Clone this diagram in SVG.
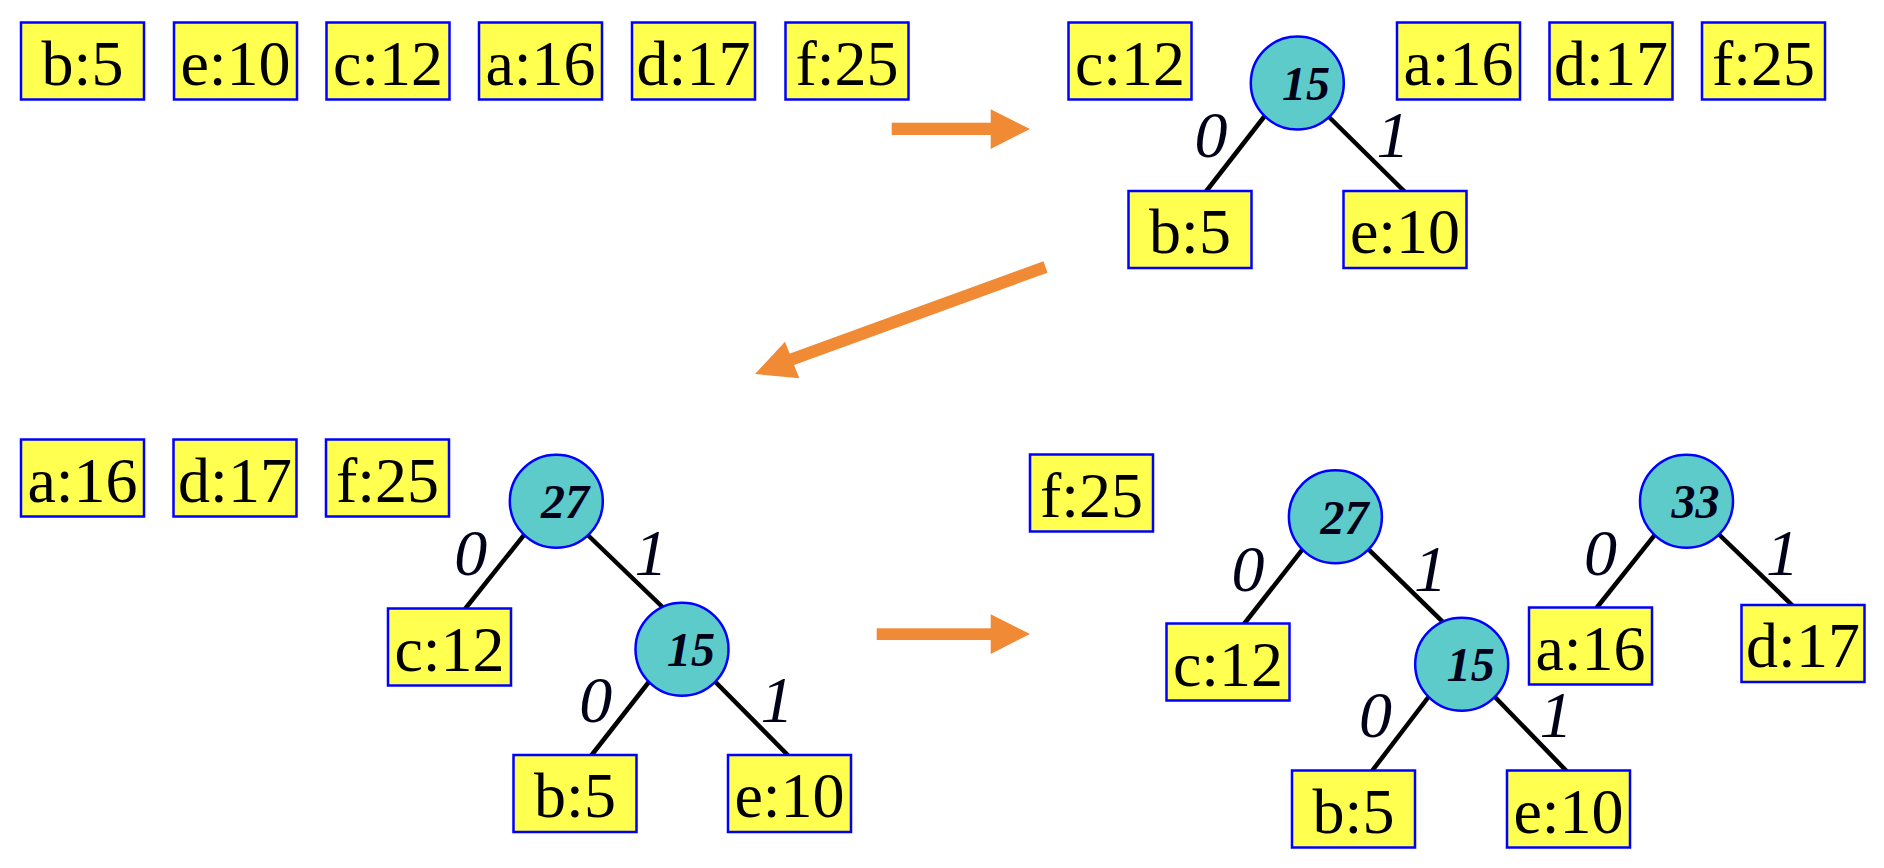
<svg xmlns="http://www.w3.org/2000/svg" width="1884" height="868" viewBox="0 0 1884 868">
<style>
.box rect{fill:#ffff50;stroke:#0000ff;stroke-width:2.5}
.box text{font-family:"Liberation Serif",serif;font-size:64px;fill:#000;text-anchor:middle}
.inner circle{fill:#5ecbcb;stroke:#0000ff;stroke-width:2.5}
.inner text{font-family:"Liberation Serif",serif;font-size:48px;font-weight:bold;font-style:italic;fill:#000018;text-anchor:middle}
.edge line{stroke:#000;stroke-width:4.5}
.lbl{font-family:"Liberation Serif",serif;font-size:66px;font-style:italic;fill:#000018;text-anchor:middle}
.arr{fill:#f08a35}
</style>
<g id="connectors">
<g class="edge">
<line x1="1265.5" y1="115" x2="1206" y2="191.5"/>
<line x1="1327" y1="115" x2="1404.5" y2="191.5"/>
<line x1="525.3" y1="533.3" x2="465" y2="609"/>
<line x1="586.7" y1="534" x2="663.5" y2="608"/>
<line x1="650.4" y1="680" x2="591.3" y2="755.5"/>
<line x1="713.5" y1="680" x2="788.2" y2="755.5"/>
<line x1="1303.3" y1="548.3" x2="1244" y2="624"/>
<line x1="1367.5" y1="548.3" x2="1442.5" y2="621.7"/>
<line x1="1430" y1="695" x2="1372" y2="771"/>
<line x1="1493" y1="695" x2="1566.5" y2="771"/>
<line x1="1656" y1="533.3" x2="1596.5" y2="608"/>
<line x1="1718.5" y1="534" x2="1793" y2="606"/>
</g>
<text class="lbl" x="1211" y="156.7">0</text>
<text class="lbl" x="1393" y="156.7">1</text>
<text class="lbl" x="470.8" y="575">0</text>
<text class="lbl" x="651" y="575">1</text>
<text class="lbl" x="595.8" y="721.7">0</text>
<text class="lbl" x="777" y="721.7">1</text>
<text class="lbl" x="1248" y="590.7">0</text>
<text class="lbl" x="1430.6" y="590.7">1</text>
<text class="lbl" x="1375.4" y="737.3">0</text>
<text class="lbl" x="1556" y="737.3">1</text>
<text class="lbl" x="1600.4" y="575">0</text>
<text class="lbl" x="1782.5" y="575">1</text>
</g>
<g id="arrows">
<rect class="arr" x="891.7" y="122.7" width="99.5" height="12.3"/>
<polygon class="arr" points="990.7,109.3 1030,129 990.7,149"/>
<line x1="1045.5" y1="267" x2="790" y2="360" stroke="#f08a35" stroke-width="12"/>
<polygon class="arr" points="785,341.7 755,374 799.3,378.3"/>
<rect class="arr" x="876.7" y="628.3" width="114.5" height="11.7"/>
<polygon class="arr" points="990.7,614.3 1030,634 990.7,654"/>
</g>
<g id="s1-b5" class="box"><rect x="21" y="22.5" width="123" height="77"/><text x="82.5" y="84.5">b:5</text></g>
<g id="s1-e10" class="box"><rect x="174" y="22.5" width="123" height="77"/><text x="235.5" y="84.5">e:10</text></g>
<g id="s1-c12" class="box"><rect x="326.5" y="22.5" width="123" height="77"/><text x="388" y="84.5">c:12</text></g>
<g id="s1-a16" class="box"><rect x="479" y="22.5" width="123" height="77"/><text x="540.5" y="84.5">a:16</text></g>
<g id="s1-d17" class="box"><rect x="632" y="22.5" width="123" height="77"/><text x="693.5" y="84.5">d:17</text></g>
<g id="s1-f25" class="box"><rect x="785.5" y="22.5" width="123" height="77"/><text x="847" y="84.5">f:25</text></g>

<g id="s2-c12" class="box"><rect x="1068.5" y="22.5" width="123" height="77"/><text x="1130" y="84.5">c:12</text></g>
<g id="s2-n15" class="inner"><circle cx="1297.3" cy="83" r="46.5"/><text x="1306" y="100">15</text></g>
<g id="s2-a16" class="box"><rect x="1397" y="22.5" width="123" height="77"/><text x="1458.5" y="84.5">a:16</text></g>
<g id="s2-d17" class="box"><rect x="1549.5" y="22.5" width="123" height="77"/><text x="1611" y="84.5">d:17</text></g>
<g id="s2-f25" class="box"><rect x="1702" y="22.5" width="123" height="77"/><text x="1763.5" y="84.5">f:25</text></g>
<g id="s2-b5" class="box"><rect x="1128.5" y="191" width="123" height="77"/><text x="1190" y="253">b:5</text></g>
<g id="s2-e10" class="box"><rect x="1343.5" y="191" width="123" height="77"/><text x="1405" y="253">e:10</text></g>

<g id="s3-a16" class="box"><rect x="21" y="439.5" width="123" height="77"/><text x="82.5" y="501.5">a:16</text></g>
<g id="s3-d17" class="box"><rect x="173.5" y="439.5" width="123" height="77"/><text x="235" y="501.5">d:17</text></g>
<g id="s3-f25" class="box"><rect x="326" y="439.5" width="123" height="77"/><text x="387.5" y="501.5">f:25</text></g>
<g id="s3-n27" class="inner"><circle cx="556.3" cy="501.2" r="46.5"/><text x="565" y="518.2">27</text></g>
<g id="s3-c12" class="box"><rect x="388" y="608.5" width="123" height="77"/><text x="449.5" y="670.5">c:12</text></g>
<g id="s3-n15" class="inner"><circle cx="682" cy="649.3" r="46.5"/><text x="691" y="666.3">15</text></g>
<g id="s3-b5" class="box"><rect x="513.5" y="755" width="123" height="77"/><text x="575" y="817">b:5</text></g>
<g id="s3-e10" class="box"><rect x="728" y="755" width="123" height="77"/><text x="789.5" y="817">e:10</text></g>

<g id="s4-f25" class="box"><rect x="1030" y="454.5" width="123" height="77"/><text x="1091.5" y="516.5">f:25</text></g>
<g id="s4-n27" class="inner"><circle cx="1335.4" cy="516.7" r="46.5"/><text x="1344.4" y="533.7">27</text></g>
<g id="s4-c12" class="box"><rect x="1166.5" y="623.5" width="123" height="77"/><text x="1228" y="685.5">c:12</text></g>
<g id="s4-n15" class="inner"><circle cx="1461.7" cy="664.2" r="46.5"/><text x="1470.7" y="681.2">15</text></g>
<g id="s4-b5" class="box"><rect x="1292" y="770.5" width="123" height="77"/><text x="1353.5" y="832.5">b:5</text></g>
<g id="s4-e10" class="box"><rect x="1507" y="770.5" width="123" height="77"/><text x="1568.5" y="832.5">e:10</text></g>
<g id="s4-n33" class="inner"><circle cx="1686.5" cy="501.2" r="46.5"/><text x="1695.5" y="518.2">33</text></g>
<g id="s4-a16" class="box"><rect x="1529" y="607.5" width="123" height="77"/><text x="1590.5" y="669.5">a:16</text></g>
<g id="s4-d17" class="box"><rect x="1741.5" y="605" width="123" height="77"/><text x="1803" y="667">d:17</text></g>
</svg>
